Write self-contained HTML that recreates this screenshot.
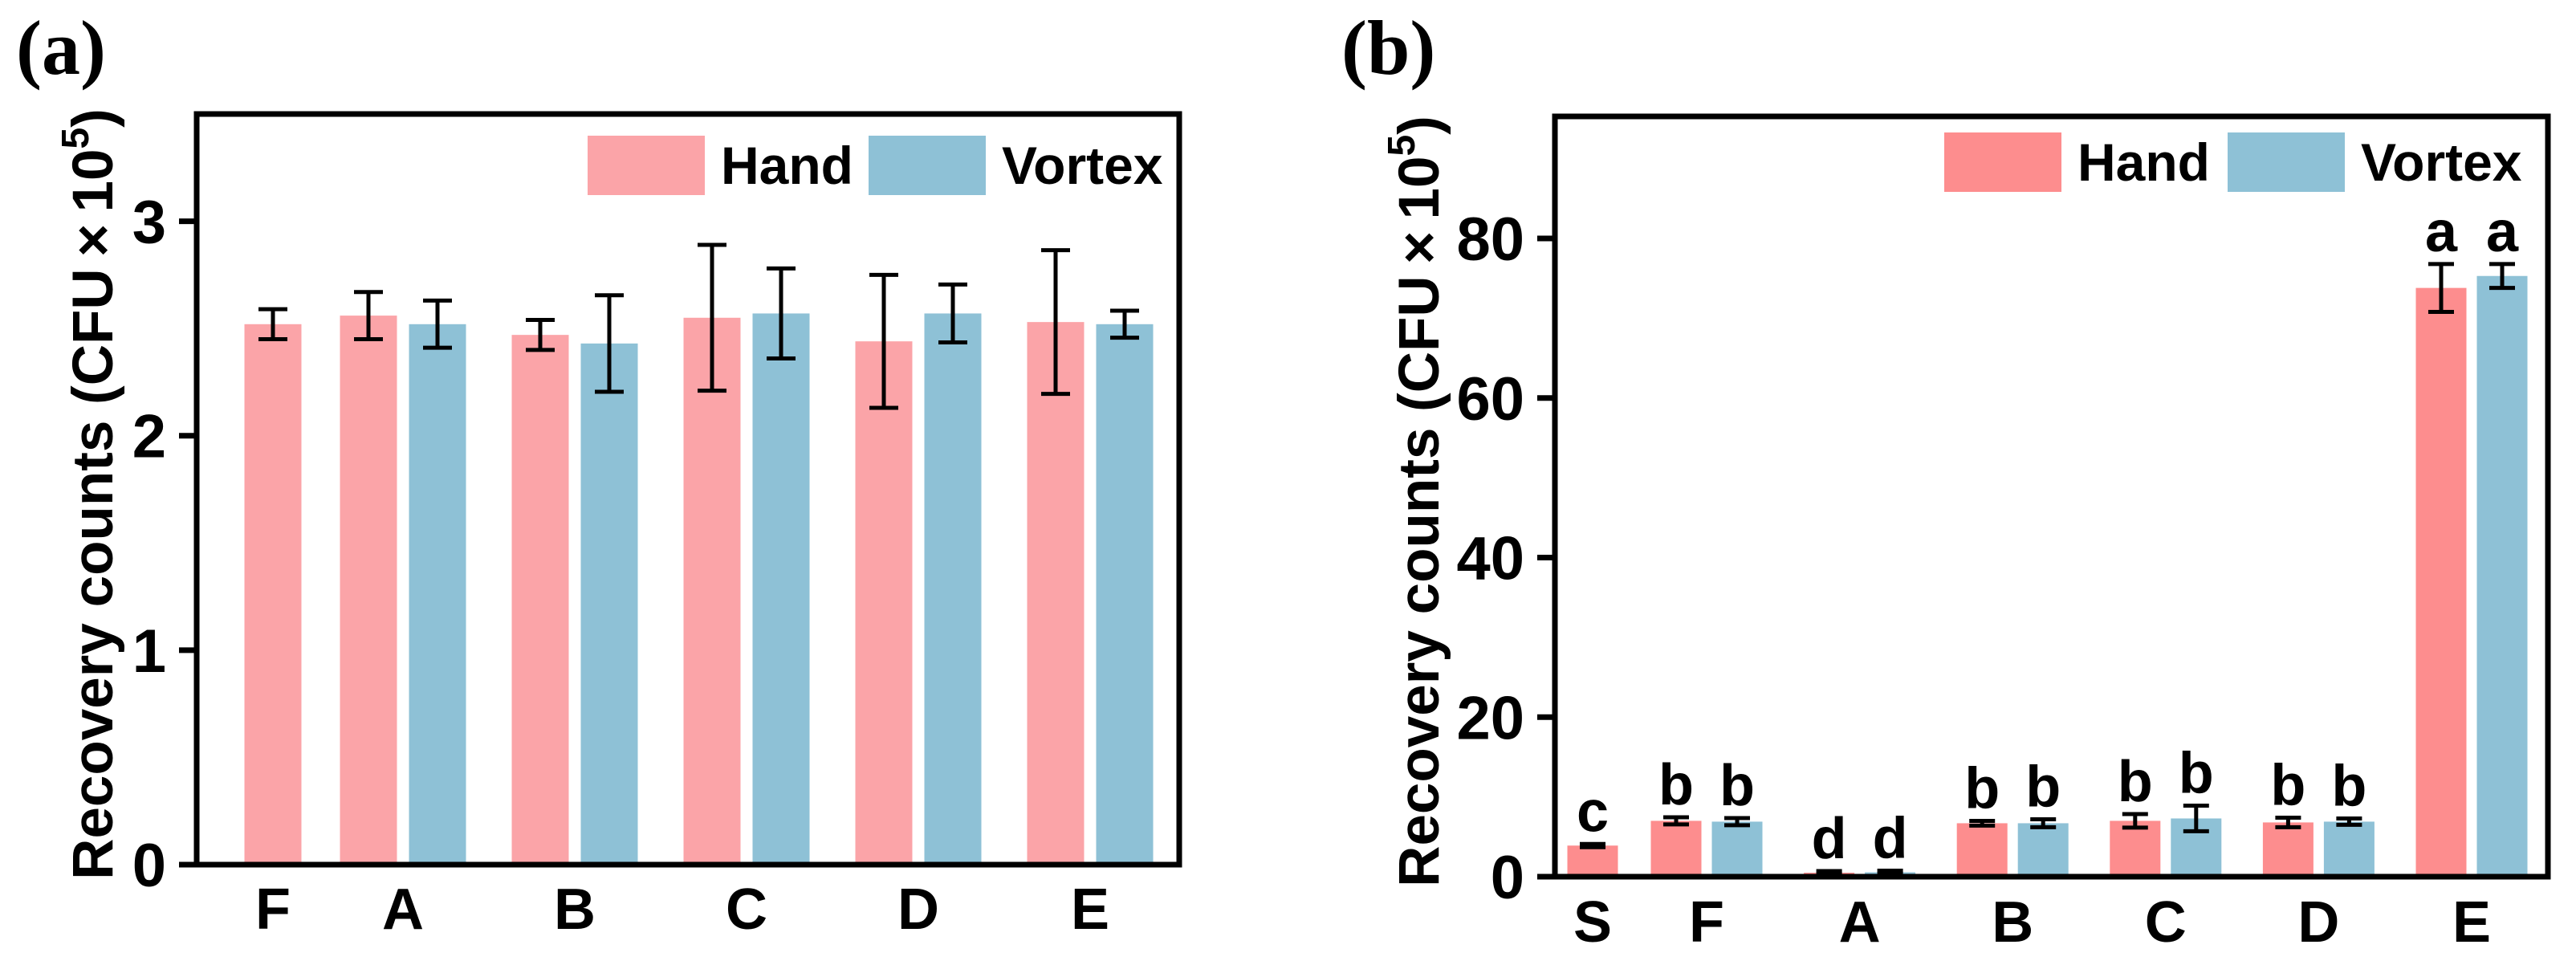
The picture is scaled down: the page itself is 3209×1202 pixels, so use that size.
<!DOCTYPE html>
<html><head><meta charset="utf-8"><style>
html,body{margin:0;padding:0;background:#fff}
svg{display:block}
text{font-family:"Liberation Sans",Arial,sans-serif;font-weight:bold;fill:#000}
</style></head><body>
<svg id="chart" width="3209" height="1202" viewBox="0 0 3209 1202" xmlns="http://www.w3.org/2000/svg"></svg>
<script>
// ---- Panel (a) data ----
const catsA = ["F","A","B","C","D","E"];
const handA = [2.52,2.56,2.47,2.55,2.44,2.53];
const handErrA = [0.07,0.11,0.07,0.34,0.31,0.335];
const vortexA = [null,2.52,2.43,2.57,2.57,2.52];
const vortexErrA = [null,0.11,0.225,0.21,0.135,0.063];
const ticksA = [0,1,2,3];
// ---- Panel (b) data ----
const catsB = ["S","F","A","B","C","D","E"];
const handB = [3.9,7.0,0.5,6.7,7.0,6.8,73.8];
const handErrB = [0.2,0.45,0.2,0.3,0.85,0.6,3.0];
const vortexB = [null,6.9,0.55,6.7,7.3,6.9,75.3];
const vortexErrB = [null,0.45,0.2,0.5,1.6,0.4,1.5];
const handLetters = ["c","b","d","b","b","b","a"];
const vortexLetters = [null,"b","d","b","b","b","a"];
const ticksB = [0,20,40,60,80];

const NS="http://www.w3.org/2000/svg";
const svg=document.getElementById('chart');
function mk(tag,attrs,parent,txt){const e=document.createElementNS(NS,tag);for(const k in attrs)e.setAttribute(k,attrs[k]);if(txt!=null)e.textContent=txt;(parent||svg).appendChild(e);return e;}

function panel(cfg){
  const g=mk('g',{});
  
  
  const y=v=>cfg.bottom-(v/cfg.ymax)*(cfg.bottom-cfg.top);
  const cx=i=> i===0 ? cfg.c1-cfg.firstGap*cfg.step : cfg.c1+(i-1)*cfg.step;
  cfg.cats.forEach((c,i)=>{
    const single = cfg.vortex[i]==null;
    const series=[[cfg.hand,cfg.handErr,cfg.handColor,'hand',-1,cfg.hLetters],[cfg.vortex,cfg.vortexErr,cfg.vortexColor,'vortex',1,cfg.vLetters]];
    series.forEach(([vals,errs,col,sn,side,lets])=>{
      const v=vals[i]; if(v==null)return;
      const bx=cx(i)+(single?0:side*cfg.off)-cfg.bw/2;
      const r=mk('rect',{x:bx,y:y(v),width:cfg.bw,height:cfg.bottom-y(v),fill:col},g);
      
      
      const ex=bx+cfg.bw/2, e=errs[i];
      const eg=mk('g',{stroke:'#000','stroke-width':5},g);
      
      
      mk('line',{x1:ex,x2:ex,y1:y(v+e),y2:y(v-e)},eg);
      mk('line',{x1:ex-cfg.cap,x2:ex+cfg.cap,y1:y(v+e),y2:y(v+e)},eg);
      mk('line',{x1:ex-cfg.cap,x2:ex+cfg.cap,y1:y(v-e),y2:y(v-e)},eg);
      if(lets&&lets[i]){
        const t=mk('text',{x:ex,y:y(v+e)-16,'text-anchor':'middle','font-size':72},g,lets[i]);
        
        
      }
    });
    const xl=mk('text',{x:cx(i),y:cfg.xlabY,'text-anchor':'middle','font-size':72},g,c);
    
    
  });
  const fr=mk('rect',{x:cfg.left,y:cfg.top,width:cfg.right-cfg.left,height:cfg.bottom-cfg.top,fill:'none',stroke:'#000','stroke-width':7},g);
  
  
  cfg.ticks.forEach(t=>{
    const tl=mk('line',{x1:cfg.left-22,x2:cfg.left,y1:y(t),y2:y(t),stroke:'#000','stroke-width':7},g);
    
    
    const tx=mk('text',{x:cfg.left-38,y:y(t)+27,'text-anchor':'end','font-size':76},g,String(t));
    
    
  });
  const yt=mk('text',{transform:`translate(${cfg.titleX},${(cfg.top+cfg.bottom)/2+6}) rotate(-90)`,'text-anchor':'middle','font-size':71},g);
  
  
  mk('tspan',{},yt,'Recovery counts (CFU\u2009×\u200910');
  mk('tspan',{dy:-30,'font-size':48},yt,'5');
  mk('tspan',{dy:30},yt,')');
  const lg=mk('g',{},g);
  
  
  const l1=mk('rect',{x:cfg.leg[0],y:cfg.legY,width:146,height:74,fill:cfg.handColor},lg);
  
  
  const t1=mk('text',{x:cfg.leg[0]+166,y:cfg.legY+60,'font-size':66},lg,'Hand');
  
  
  const l2=mk('rect',{x:cfg.leg[1],y:cfg.legY,width:146,height:74,fill:cfg.vortexColor},lg);
  
  
  const t2=mk('text',{x:cfg.leg[1]+166,y:cfg.legY+60,'font-size':66},lg,'Vortex');
  
  
  const pl=mk('text',{x:cfg.plX,y:92,'font-size':96,style:'font-family:"Liberation Serif",serif;font-weight:bold'},g,cfg.plabel);
  
  
}

panel({name:'panel-a',cats:catsA,hand:handA,handErr:handErrA,vortex:vortexA,vortexErr:vortexErrA,
  hLetters:null,vLetters:null,ticks:ticksA,ymax:3.5,left:245,right:1469,top:142,bottom:1077,
  c1:502,step:214,firstGap:0.757,bw:71,off:43,cap:18,xlabY:1157,titleX:140,
  handColor:'#FBA4A8',vortexColor:'#8EC1D6',leg:[732,1082],legY:169,plX:20,plabel:'(a)'});
panel({name:'panel-b',cats:catsB,hand:handB,handErr:handErrB,vortex:vortexB,vortexErr:vortexErrB,
  hLetters:handLetters,vLetters:vortexLetters,ticks:ticksB,ymax:95.3,left:1937,right:3174,top:145,bottom:1092,
  c1:2126,step:190.6,firstGap:0.745,bw:63,off:38,cap:16,xlabY:1173,titleX:1792,
  handColor:'#FD8D8E',vortexColor:'#8EC1D6',leg:[2422,2775],legY:165,plX:1671,plabel:'(b)'});
</script>
</body></html>
